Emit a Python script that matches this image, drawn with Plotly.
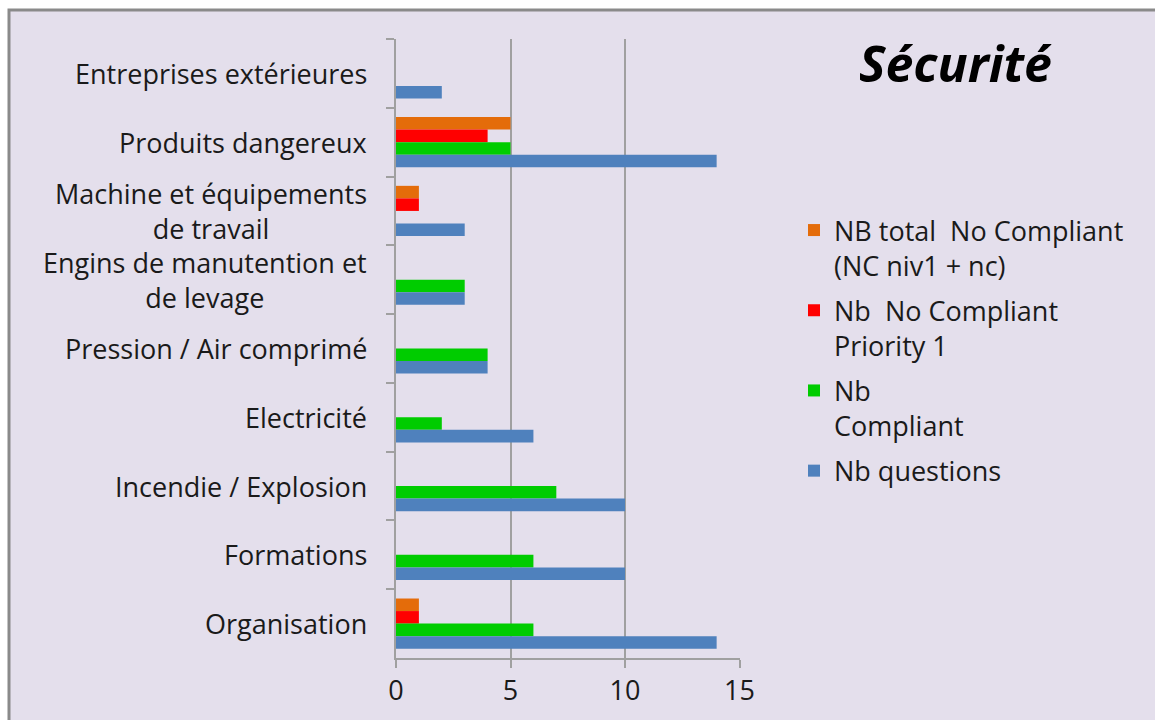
import plotly.graph_objects as go

categories = [
    "Entreprises extérieures",
    "Produits dangereux",
    "Machine et équipements<br>de travail",
    "Engins de manutention et<br>de levage",
    "Pression / Air comprimé",
    "Electricité",
    "Incendie / Explosion",
    "Formations",
    "Organisation",
]
nb_total_nc = [0, 5, 1, 0, 0, 0, 0, 0, 1]
nb_nc_p1 = [0, 4, 1, 0, 0, 0, 0, 0, 1]
nb_compliant = [0, 5, 0, 3, 4, 2, 7, 6, 6]
nb_questions = [2, 14, 3, 3, 4, 6, 10, 10, 14]

series_names = [
    "NB total  No Compliant<br>(NC niv1 + nc)",
    "Nb  No Compliant<br>Priority 1",
    "Nb<br>Compliant",
    "Nb questions",
]
series_values = [nb_total_nc, nb_nc_p1, nb_compliant, nb_questions]
series_colors = ["#E46C0A", "#FF0000", "#00CC00", "#4F81BD"]
x_ticks = [0, 5, 10, 15]

FONT = "Open Sans"
FS = 27
W, H = 1155, 720
L, R, T, B = 396, 740, 39, 658
pw = R - L
ph = B - T

fig = go.Figure()
for i, (name, vals, col) in enumerate(zip(series_names, series_values, series_colors)):
    fig.add_trace(go.Bar(
        y=categories, x=vals, name=name, orientation="h",
        marker=dict(color=col, line=dict(width=0)),
        legendgroup=f"g{i}",
    ))

# category labels (centered multi-line)
for c in categories:
    fig.add_annotation(
        x=0, xref="paper", y=c, yref="y", text=c, showarrow=False,
        xanchor="right", yanchor="middle", align="center", xshift=-27,
        font=dict(family=FONT, size=FS, color="#1a1a1a"),
    )

# title
fig.add_annotation(
    x=(955 - L) / pw, xref="paper", y=(B - 63) / ph, yref="paper",
    text="<b><i>Sécurité</i></b>", showarrow=False,
    xanchor="center", yanchor="middle",
    font=dict(family=FONT, size=50, color="#000000"),
)

# frame
fig.add_shape(
    type="rect", xref="paper", yref="paper", layer="below",
    x0=(9 - L) / pw, x1=(W + 60 - L) / pw,
    y0=-(H + 60 - B) / ph,
    y1=(B - 10) / ph,
    fillcolor="#E4DFEC", line=dict(color="#8A8A8A", width=3),
)

fig.update_layout(
    width=W, height=H,
    margin=dict(l=L, r=W - R, t=T, b=H - B, autoexpand=False),
    paper_bgcolor="#FFFFFF",
    plot_bgcolor="#FFFFFF",
    barmode="group",
    bargap=0.27,
    bargroupgap=0,
    font=dict(family=FONT, size=FS, color="#1a1a1a"),
    showlegend=True,
    legend=dict(
        x=(794 - L) / pw, xanchor="left", xref="paper",
        y=(B - 206) / ph, yanchor="top", yref="paper",
        bgcolor="rgba(0,0,0,0)", borderwidth=0,
        font=dict(family=FONT, size=FS, color="#1a1a1a"),
        tracegroupgap=7, valign="top",
    ),
    xaxis=dict(
        range=[0, 15.02], tickvals=x_ticks, ticktext=[str(v) for v in x_ticks],
        showgrid=True, gridcolor="#A0A0A0", gridwidth=2,
        showline=True, linecolor="#A0A0A0", linewidth=2,
        ticks="outside", ticklen=8, tickcolor="#A0A0A0", tickwidth=2,
        zeroline=False, fixedrange=True,
        tickfont=dict(family=FONT, size=FS, color="#1a1a1a"),
    ),
    yaxis=dict(
        autorange="reversed", type="category",
        showticklabels=False, showgrid=False,
        showline=True, linecolor="#A0A0A0", linewidth=2,
        ticks="outside", ticklen=8, tickcolor="#A0A0A0", tickwidth=2,
        tickson="boundaries", zeroline=False, fixedrange=True,
    ),
)

fig.write_html(
    "out.html",
    config={"displayModeBar": False},
    post_script="document.body.style.margin='0';document.body.style.overflow='hidden';",
)
